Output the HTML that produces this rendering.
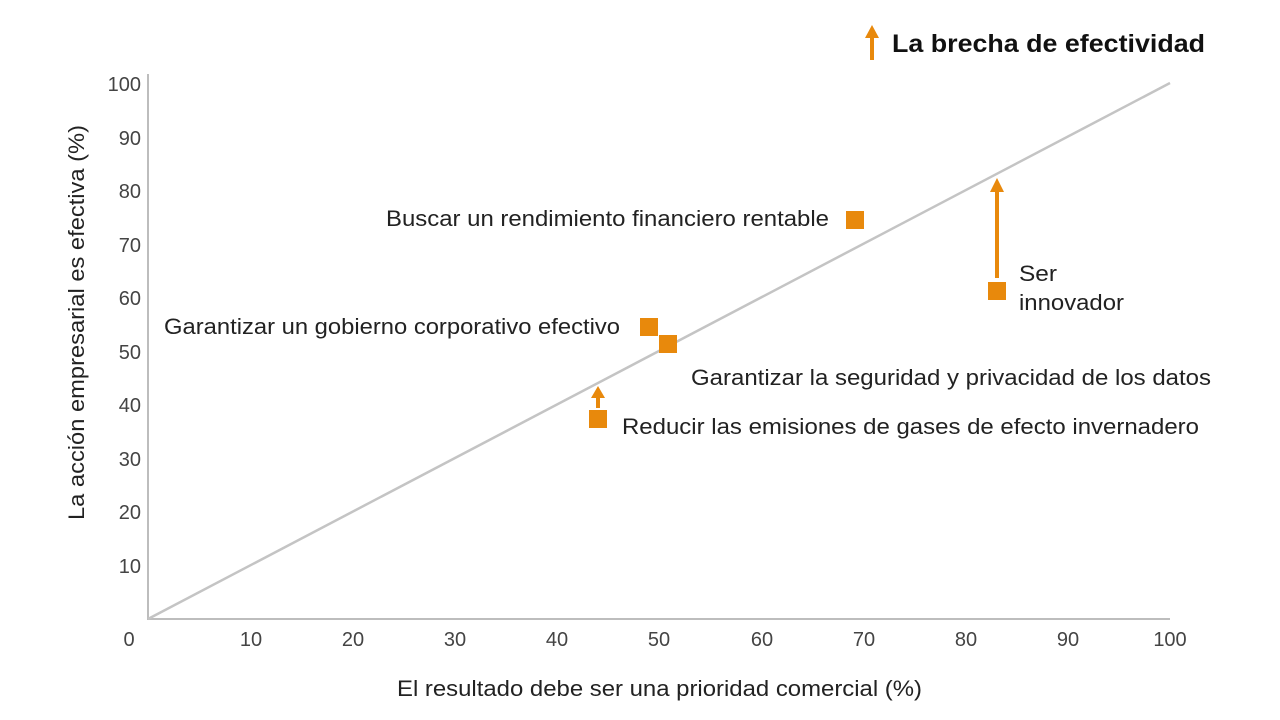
<!DOCTYPE html>
<html><head><meta charset="utf-8"><style>body{margin:0;background:#fff}svg{display:block}text{font-family:"Liberation Sans",Arial,sans-serif}</style></head><body>
<svg width="1280" height="720" viewBox="0 0 1280 720">
<g stroke="#bdbdbd" stroke-width="2" fill="none">
<line x1="148" y1="74" x2="148" y2="620"/>
<line x1="147" y1="619" x2="1170" y2="619"/>
<line x1="148" y1="619" x2="1170" y2="83" stroke="#c4c4c4" stroke-width="2.5"/>
</g>
<g font-size="20" fill="#444" text-anchor="end">
<text x="141" y="91">100</text><text x="141" y="145">90</text><text x="141" y="198">80</text><text x="141" y="252">70</text><text x="141" y="305">60</text><text x="141" y="359">50</text><text x="141" y="412">40</text><text x="141" y="466">30</text><text x="141" y="519">20</text><text x="141" y="573">10</text>
</g>
<g font-size="20" fill="#444" text-anchor="middle">
<text x="129" y="646">0</text><text x="251" y="646">10</text><text x="353" y="646">20</text><text x="455" y="646">30</text><text x="557" y="646">40</text><text x="659" y="646">50</text><text x="762" y="646">60</text><text x="864" y="646">70</text><text x="966" y="646">80</text><text x="1068" y="646">90</text><text x="1170" y="646">100</text>
</g>
<text x="397" y="696" font-size="22" fill="#222" textLength="525" lengthAdjust="spacingAndGlyphs">El resultado debe ser una prioridad comercial (%)</text>
<text transform="translate(84,520) rotate(-90)" font-size="22" fill="#222" textLength="395" lengthAdjust="spacingAndGlyphs">La acción empresarial es efectiva (%)</text>
<g fill="#E8890C">
<rect x="846" y="211" width="18" height="18"/>
<rect x="640" y="318" width="18" height="18"/>
<rect x="659" y="335" width="18" height="18"/>
<rect x="589" y="410" width="18" height="18"/>
<rect x="988" y="282" width="18" height="18"/>
<rect x="995" y="190" width="4" height="88"/>
<polygon points="990,192 997,178 1004,192"/>
<rect x="596" y="396" width="4" height="12"/>
<polygon points="591,398 598,386 605,398"/>
<rect x="870" y="36" width="4" height="24"/>
<polygon points="865,38 872,25 879,38"/>
</g>
<text x="892" y="52" font-size="25" font-weight="bold" fill="#111" textLength="313" lengthAdjust="spacingAndGlyphs">La brecha de efectividad</text>
<g font-size="22" fill="#222">
<text x="386" y="226" textLength="443" lengthAdjust="spacingAndGlyphs">Buscar un rendimiento financiero rentable</text>
<text x="164" y="334" textLength="456" lengthAdjust="spacingAndGlyphs">Garantizar un gobierno corporativo efectivo</text>
<text x="691" y="385" textLength="520" lengthAdjust="spacingAndGlyphs">Garantizar la seguridad y privacidad de los datos</text>
<text x="622" y="434" textLength="577" lengthAdjust="spacingAndGlyphs">Reducir las emisiones de gases de efecto invernadero</text>
<text x="1019" y="281" textLength="38" lengthAdjust="spacingAndGlyphs">Ser</text>
<text x="1019" y="310" textLength="105" lengthAdjust="spacingAndGlyphs">innovador</text>
</g>
</svg>
</body></html>
